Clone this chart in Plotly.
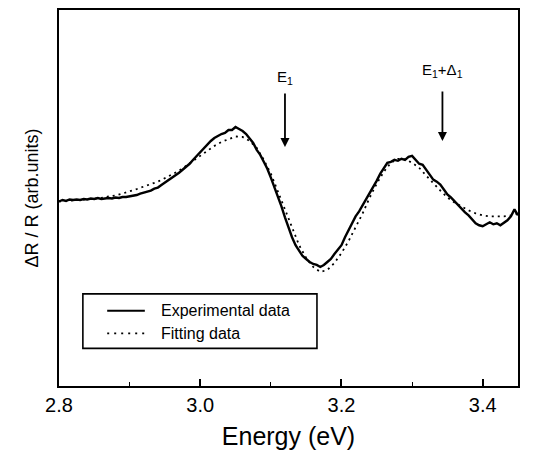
import plotly.graph_objects as go

exp_energy = [
    2.800, 2.805, 2.810, 2.815, 2.820, 2.825, 2.830, 2.835, 2.840, 2.845,
    2.850, 2.855, 2.860, 2.865, 2.870, 2.875, 2.880, 2.885, 2.890, 2.895,
    2.900, 2.905, 2.910, 2.915, 2.920, 2.925, 2.930, 2.935, 2.940, 2.945,
    2.950, 2.955, 2.960, 2.965, 2.970, 2.975, 2.980, 2.985, 2.990, 2.995,
    3.000, 3.005, 3.010, 3.015, 3.020, 3.025, 3.030, 3.035, 3.040, 3.045,
    3.050, 3.055, 3.060, 3.065, 3.070, 3.075, 3.080, 3.085, 3.090, 3.095,
    3.100, 3.105, 3.110, 3.115, 3.120, 3.125, 3.130, 3.135, 3.140, 3.145,
    3.150, 3.155, 3.160, 3.165, 3.170, 3.175, 3.180, 3.185, 3.190, 3.195,
    3.200, 3.205, 3.210, 3.215, 3.220, 3.225, 3.230, 3.235, 3.240, 3.245,
    3.250, 3.255, 3.260, 3.265, 3.270, 3.275, 3.280, 3.285, 3.290, 3.295,
    3.300, 3.305, 3.310, 3.315, 3.320, 3.325, 3.330, 3.335, 3.340, 3.345,
    3.350, 3.355, 3.360, 3.365, 3.370, 3.375, 3.380, 3.385, 3.390, 3.395,
    3.400, 3.405, 3.410, 3.415, 3.420, 3.425, 3.430, 3.435, 3.440, 3.445,
    3.450,
]
exp_signal = [
    0.00, 0.015, 0.005, 0.02, 0.015, 0.02, 0.015, 0.025, 0.02, 0.03,
    0.025, 0.035, 0.025, 0.03, 0.035, 0.03, 0.04, 0.035, 0.045, 0.045,
    0.05, 0.06, 0.065, 0.08, 0.09, 0.10, 0.11, 0.13, 0.14, 0.165,
    0.19, 0.21, 0.24, 0.26, 0.29, 0.32, 0.35, 0.38, 0.42, 0.46,
    0.49, 0.54, 0.57, 0.61, 0.64, 0.66, 0.68, 0.69, 0.72, 0.72,
    0.75, 0.73, 0.71, 0.68, 0.64, 0.59, 0.52, 0.47, 0.40, 0.33,
    0.24, 0.15, 0.06, -0.05, -0.16, -0.27, -0.36, -0.44, -0.50, -0.55,
    -0.58, -0.61, -0.63, -0.64, -0.66, -0.64, -0.61, -0.58, -0.53, -0.49,
    -0.44, -0.36, -0.29, -0.22, -0.15, -0.10, -0.04, 0.03, 0.08, 0.15,
    0.21, 0.28, 0.33, 0.39, 0.40, 0.42, 0.41, 0.43, 0.42, 0.45,
    0.46, 0.42, 0.38, 0.37, 0.32, 0.27, 0.22, 0.20, 0.17, 0.12,
    0.07, 0.04, 0.00, -0.04, -0.07, -0.11, -0.14, -0.18, -0.22, -0.24,
    -0.25, -0.23, -0.21, -0.23, -0.22, -0.24, -0.21, -0.19, -0.15, -0.08,
    -0.14,
]

fit_energy = [
    2.80, 2.81, 2.82, 2.83, 2.84, 2.85, 2.86, 2.87, 2.88, 2.89,
    2.90, 2.91, 2.92, 2.93, 2.94, 2.95, 2.96, 2.97, 2.98, 2.99,
    3.00, 3.01, 3.02, 3.03, 3.04, 3.05, 3.06, 3.07, 3.08, 3.09,
    3.10, 3.11, 3.12, 3.13, 3.14, 3.15, 3.16, 3.17, 3.18, 3.19,
    3.20, 3.21, 3.22, 3.23, 3.24, 3.25, 3.26, 3.27, 3.28, 3.29,
    3.30, 3.31, 3.32, 3.33, 3.34, 3.35, 3.36, 3.37, 3.38, 3.39,
    3.40, 3.41, 3.42, 3.43, 3.44, 3.45,
]
fit_signal = [
    0.00, 0.005, 0.01, 0.015, 0.02, 0.03, 0.035, 0.05, 0.06, 0.08,
    0.10, 0.125, 0.15, 0.175, 0.20, 0.235, 0.27, 0.31, 0.36, 0.41,
    0.46, 0.51, 0.56, 0.60, 0.63, 0.655, 0.65, 0.61, 0.54, 0.42,
    0.28, 0.10, -0.06, -0.26, -0.44, -0.57, -0.66, -0.71, -0.69, -0.62,
    -0.52, -0.40, -0.26, -0.12, 0.04, 0.18, 0.30, 0.39, 0.43, 0.425,
    0.39, 0.34, 0.26, 0.18, 0.11, 0.04, -0.01, -0.05, -0.09, -0.12,
    -0.14, -0.15, -0.15, -0.15, -0.14, -0.12,
]

x_ticks = [2.8, 3.0, 3.2, 3.4]
x_tick_labels = ["2.8", "3.0", "3.2", "3.4"]

transition_energies = [3.12, 3.343]
transition_labels = ["E<sub>1</sub>", "E<sub>1</sub>+Δ<sub>1</sub>"]
arrow_tips = [0.55, 0.61]
label_levels = [1.25, 1.32]
arrow_gaps = [5, 10]

legend_names = ["Experimental data", "Fitting data"]

FONT = "Liberation Sans, Arial, sans-serif"

fig = go.Figure()
fig.add_trace(go.Scatter(
    x=fit_energy, y=fit_signal, mode="lines", name=legend_names[1],
    line=dict(color="black", width=1.8, dash="2px,4px"), showlegend=False,
))
fig.add_trace(go.Scatter(
    x=exp_energy, y=exp_signal, mode="lines", name=legend_names[0],
    line=dict(color="black", width=2.4), showlegend=False,
))

for xe, lab, tip, lv, gap in zip(transition_energies, transition_labels,
                                 arrow_tips, label_levels, arrow_gaps):
    fig.add_annotation(
        x=xe, y=tip, ax=xe, ay=lv, xref="x", yref="y", axref="x", ayref="y",
        text=lab, showarrow=True, arrowhead=2, arrowsize=1.0, arrowwidth=1.8,
        arrowcolor="black", startstandoff=gap,
        font=dict(family=FONT, size=15, color="black"),
    )

# legend box (drawn manually to match the wide framed legend)
fig.add_shape(type="rect", xref="paper", yref="paper",
              x0=0.052, x1=0.562, y0=0.10, y1=0.245,
              line=dict(color="black", width=1.6), fillcolor="white")
fig.add_shape(type="line", xref="paper", yref="paper",
              x0=0.105, x1=0.187, y0=0.200, y1=0.200,
              line=dict(color="black", width=2.0))
fig.add_shape(type="line", xref="paper", yref="paper",
              x0=0.105, x1=0.187, y0=0.140, y1=0.140,
              line=dict(color="black", width=1.6, dash="2px,5px"))
for name, yy in zip(legend_names, [0.200, 0.140]):
    fig.add_annotation(
        x=0.218, y=yy, xref="paper", yref="paper", text=name,
        showarrow=False, xanchor="left", yanchor="middle",
        font=dict(family=FONT, size=16, color="black"),
    )

fig.update_layout(
    width=528, height=450,
    margin=dict(l=51, r=18, t=0, b=72),
    paper_bgcolor="white", plot_bgcolor="white",
    font=dict(family=FONT, color="black"),
)
fig.update_xaxes(
    range=[2.8, 3.45], tickvals=x_ticks, ticktext=x_tick_labels,
    ticks="inside", ticklen=7, tickwidth=1.6, tickcolor="black",
    minor=dict(dtick=0.1, tick0=2.8, ticks="inside", ticklen=4,
               tickwidth=1.3, tickcolor="black"),
    showline=True, linecolor="black", linewidth=2, mirror=True,
    showgrid=False, zeroline=False,
    tickfont=dict(family=FONT, size=20, color="black"),
    title=dict(text="Energy (eV)", font=dict(family=FONT, size=25, color="black"),
               standoff=12),
)
fig.update_yaxes(
    range=[-1.86, 1.93], showticklabels=False, ticks="",
    showline=True, linecolor="black", linewidth=2, mirror=True,
    showgrid=False, zeroline=False,
    title=dict(text="ΔR / R (arb.units)", font=dict(family=FONT, size=18, color="black"),
               standoff=14),
)

fig.write_html("out.html")
